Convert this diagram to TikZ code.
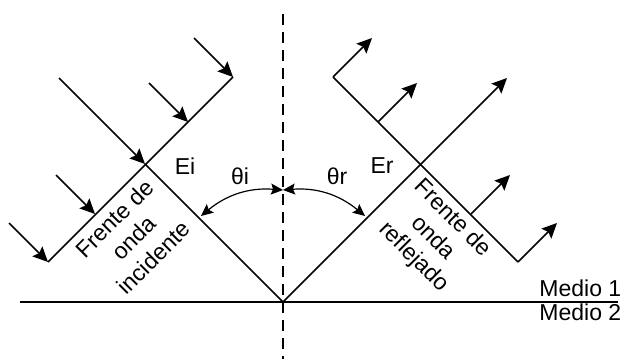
\documentclass[tikz,border=0pt]{standalone}
\usepackage{fontspec}
\setmainfont{Liberation Sans}
\usetikzlibrary{arrows.meta}

\begin{document}
\begin{tikzpicture}[x=1pt,y=-1pt,line width=1.5pt,
  ray/.style={-{Stealth[length=15pt,width=14pt,inset=2.5pt]}},
  angle/.style={{Stealth[length=12pt,width=11pt,inset=2pt]}-{Stealth[length=12pt,width=11pt,inset=2pt]}},
  lbl/.style={font=\fontsize{23}{27.5}\selectfont,inner sep=0pt,align=center}]
\useasboundingbox (0,0) rectangle (622,359);
% points of incidence, normal and interface
\coordinate (O) at (283,302);
\coordinate (ntop) at (283,14);
\coordinate (nbot) at (283,359);
\coordinate (sl) at (20,302);
\coordinate (sr) at (618,302);
% incident wave front
\coordinate (i1) at (48,262);
\coordinate (i2) at (95,214);
\coordinate (i3) at (145,164);
\coordinate (i4) at (188,122);
\coordinate (i5) at (233,77);
\coordinate (a1) at (9,223);
\coordinate (a2) at (56,175);
\coordinate (a3) at (59,78);
\coordinate (a4) at (149,83);
\coordinate (a5) at (194,38);
% reflected wave front
\coordinate (r1) at (518,262);
\coordinate (r2) at (471,214);
\coordinate (r3) at (421,164);
\coordinate (r4) at (378,122);
\coordinate (r5) at (333,77);
\coordinate (b1) at (557,223);
\coordinate (b2) at (510,175);
\coordinate (b3) at (507,78);
\coordinate (b4) at (417,83);
\coordinate (b5) at (372,38);
% angle ends
\coordinate (ti) at (201,216);
\coordinate (tn) at (283,190);
\coordinate (tr) at (365,216);

\draw[dashed,line width=1.2pt,dash pattern=on 11pt off 7pt] (ntop)--(nbot);
\draw (sl)--(sr);
\draw (i1)--(i5);
\draw (r1)--(r5);
\draw (i3)--(O)--(r3);
\draw[ray] (a1)--(i1);
\draw[ray] (a2)--(i2);
\draw[ray] (a3)--(i3);
\draw[ray] (a4)--(i4);
\draw[ray] (a5)--(i5);
\draw[ray] (r1)--(b1);
\draw[ray] (r2)--(b2);
\draw[ray] (r3)--(b3);
\draw[ray] (r4)--(b4);
\draw[ray] (r5)--(b5);
\draw[angle,line width=1.2pt] (ti) to[bend left=22] (tn);
\draw[angle,line width=1.2pt] (tn) to[bend left=22] (tr);

\node[lbl] (ei) at (185,166) {Ei};
\node[lbl] (er) at (382,166) {Er};
\node[lbl] (thi) at (240,176) {θi};
\node[lbl] (thr) at (337,176) {θr};
\node[lbl,rotate=45] (fi) at (134,238) {Frente de\\onda\\incidente};
\node[lbl,rotate=-45] (fr) at (433,238) {Frente de\\onda\\reflejado};
\node[lbl,anchor=base east] (m1) at (622,296) {Medio 1};
\node[lbl,anchor=base east] (m2) at (622,320) {Medio 2};
\end{tikzpicture}
\end{document}
